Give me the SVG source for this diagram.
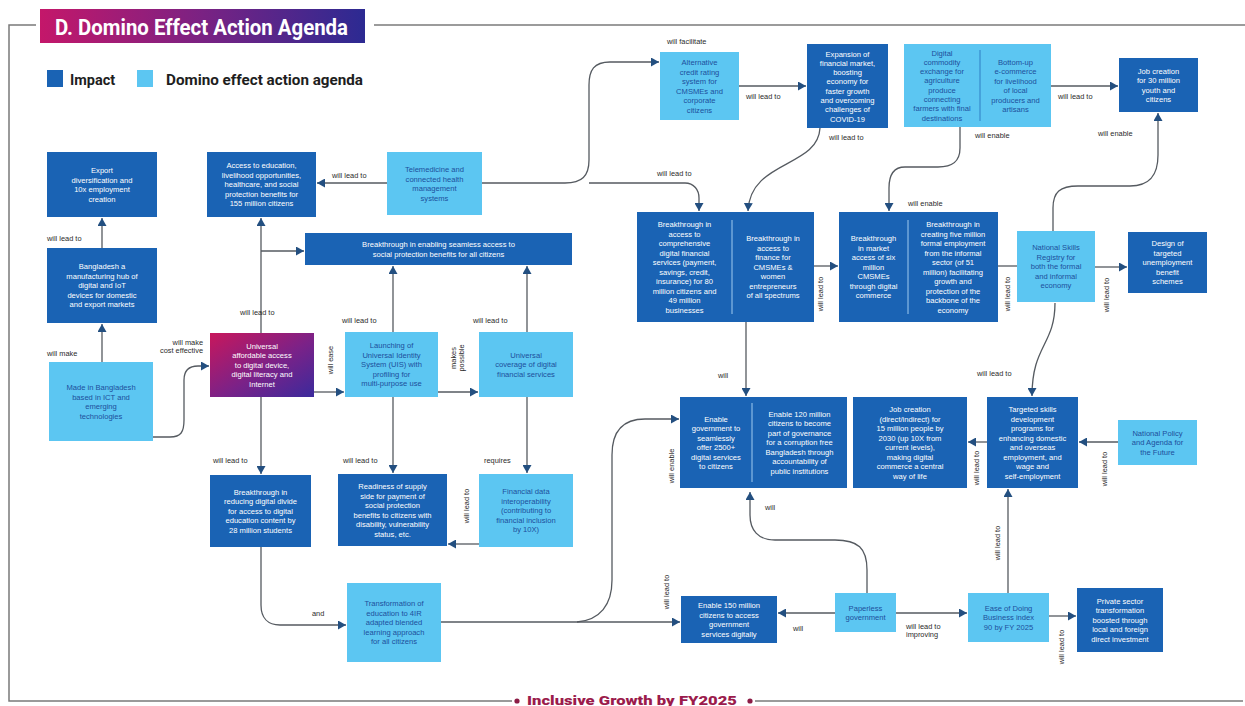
<svg xmlns="http://www.w3.org/2000/svg" width="1245" height="706" viewBox="0 0 1245 706">
  <defs>
    <linearGradient id="gHead" x1="0" y1="0" x2="1" y2="0">
      <stop offset="0" stop-color="#c4176a"/>
      <stop offset="0.5" stop-color="#7a2283"/>
      <stop offset="1" stop-color="#2c2a92"/>
    </linearGradient>
    <linearGradient id="gKey" x1="0" y1="0" x2="1" y2="1">
      <stop offset="0" stop-color="#c8175c"/>
      <stop offset="0.55" stop-color="#7a2288"/>
      <stop offset="1" stop-color="#3b2a9c"/>
    </linearGradient>
    <marker id="ah" markerUnits="userSpaceOnUse" markerWidth="9" markerHeight="9" refX="8" refY="4.5" orient="auto">
      <path d="M0,0 L8,4.5 L0,9 z" fill="#234f80"/>
    </marker>
    <style>
      .imp{fill:#1a63b4}
      .act{fill:#5cc6f2}
      .div{stroke:#9fcbef;stroke-width:1}
      .divl{stroke:#2f7fc4;stroke-width:1}
      .tw{fill:#ffffff;font-family:"Liberation Sans",Arial,sans-serif;font-size:7.6px;text-anchor:middle}
      .tb{fill:#1c4f9c;font-family:"Liberation Sans",Arial,sans-serif;font-size:7.6px;text-anchor:middle}
      .lbl{fill:#2a2a2a;font-family:"Liberation Sans",Arial,sans-serif;font-size:7.4px}
      .vl{fill:#2a2a2a;font-family:"Liberation Sans",Arial,sans-serif;font-size:7.4px;text-anchor:middle}
      .con{fill:none;stroke:#555a60;stroke-width:1.3}
      .arr{marker-end:url(#ah)}
      .frame{fill:none;stroke:#7a7a7a;stroke-width:1.5}
    </style>
  </defs>

  <rect width="1245" height="706" fill="#ffffff"/>

  <!-- outer frame -->
  <path class="frame" d="M36,25 H9 V701 H512"/>
  <path class="frame" d="M755,701 H1243"/>
  <path class="frame" d="M374,25 H1245"/>

  <!-- title -->
  <g id="title">
    <rect x="40" y="9" width="325" height="34" fill="url(#gHead)"/>
    <text x="55" y="35" fill="#ffffff" font-family="Roboto,'Liberation Sans',sans-serif" font-weight="bold" font-size="22" textLength="293" lengthAdjust="spacingAndGlyphs">D. Domino Effect Action Agenda</text>
  </g>

  <!-- legend -->
  <g id="legend">
    <rect x="47" y="70" width="16" height="17" class="imp"/>
    <text x="70" y="85" fill="#1e1e1e" font-family="Roboto,'Liberation Sans',sans-serif" font-weight="bold" font-size="14.5">Impact</text>
    <rect x="137" y="70" width="16" height="17" class="act"/>
    <text x="166" y="85" fill="#1e1e1e" font-family="Roboto,'Liberation Sans',sans-serif" font-weight="bold" font-size="14.5" textLength="197" lengthAdjust="spacingAndGlyphs">Domino effect action agenda</text>
  </g>

  <!-- connectors -->
  <g id="connectors">
    <path class="con arr" d="M102,362 V324"/>
    <path class="con arr" d="M102,248 V218"/>
    <path class="con arr" d="M153,437 H170 C181,437 184,432 184,420 V380 C184,370 189,366 198,366 H209"/>
    <path class="con arr" d="M261,333 V218"/>
    <path class="con arr" d="M261,251 H304"/>
    <path class="con arr" d="M387,183 H317"/>
    <path class="con arr" d="M482,183 H565 C582,183 589,176 589,160 V85 C589,70 594,62 610,62 H659"/>
    <path class="con arr" d="M589,183 H685 C694,183 699,190 699,198 V211"/>
    <path class="con arr" d="M739,86 H806"/>
    <path class="con arr" d="M820,128 C818,168 750,160 748,211"/>
    <path class="con arr" d="M1051,86 H1118"/>
    <path class="con arr" d="M960,127 V148 C960,162 952,167 938,167 H905 C894,167 889,175 889,188 V211"/>
    <path class="con arr" d="M1053,231 V208 C1053,192 1060,186 1078,186 H1130 C1150,186 1158,175 1158,155 V113"/>
    <path class="con arr" d="M814,266 H838"/>
    <path class="con" d="M998,266 H1017"/>
    <path class="con arr" d="M1095,267 H1127"/>
    <path class="con arr" d="M1055,303 C1055,345 1032,345 1032,396"/>
    <path class="con arr" d="M746,322 V396"/>
    <path class="con arr" d="M1118,442 H1079"/>
    <path class="con arr" d="M987,442 H968"/>
    <path class="con arr" d="M1008,593 V489"/>
    <path class="con arr" d="M1049,616 H1076"/>
    <path class="con arr" d="M835,613 H778"/>
    <path class="con arr" d="M896,613 H967"/>
    <path class="con arr" d="M867,593 V570 C867,548 858,540 835,540 H775 C758,540 750,530 750,515 V492"/>
    <path class="con arr" d="M314,392 H344"/>
    <path class="con arr" d="M438,392 H478"/>
    <path class="con arr" d="M393,332 V266"/>
    <path class="con arr" d="M527,332 V266"/>
    <path class="con arr" d="M393,397 V473"/>
    <path class="con arr" d="M527,397 V473"/>
    <path class="con arr" d="M479,544 H448"/>
    <path class="con arr" d="M261,397 V474"/>
    <path class="con arr" d="M261,547 V605 C261,618 268,625 280,625 H346"/>
    <path class="con arr" d="M441,622 H680"/>
    <path class="con arr" d="M577,622 C600,620 612,605 612,580 V455 C612,432 622,419 645,419 H679"/>
  </g>

  <!-- connector labels -->
  <g id="labels">
    <text class="lbl" x="47" y="241">will lead to</text>
    <text class="lbl" x="47" y="356">will make</text>
    <text class="lbl" x="203" y="345" text-anchor="end" font-size="6.6">will make</text>
    <text class="lbl" x="203" y="353" text-anchor="end" font-size="6.6">cost effective</text>
    <text class="lbl" x="240" y="315">will lead to</text>
    <text class="lbl" x="332" y="178">will lead to</text>
    <text class="lbl" x="213" y="463">will lead to</text>
    <text class="vl" transform="translate(333,360) rotate(-90)">will ease</text>
    <text class="vl" transform="translate(456,358) rotate(-90)">makes</text>
    <text class="vl" transform="translate(464,358) rotate(-90)">possible</text>
    <text class="lbl" x="342" y="323">will lead to</text>
    <text class="lbl" x="473" y="323">will lead to</text>
    <text class="lbl" x="343" y="463">will lead to</text>
    <text class="lbl" x="484" y="463">requires</text>
    <text class="vl" transform="translate(469,506) rotate(-90)">will lead to</text>
    <text class="lbl" x="312" y="616">and</text>
    <text class="lbl" x="667" y="44">will facilitate</text>
    <text class="lbl" x="746" y="99">will lead to</text>
    <text class="lbl" x="829" y="140">will lead to</text>
    <text class="lbl" x="657" y="176">will lead to</text>
    <text class="lbl" x="975" y="138">will enable</text>
    <text class="lbl" x="1058" y="99">will lead to</text>
    <text class="lbl" x="1098" y="136">will enable</text>
    <text class="lbl" x="908" y="206">will enable</text>
    <text class="vl" transform="translate(823,294) rotate(-90)">will lead to</text>
    <text class="vl" transform="translate(1010,294) rotate(-90)">will lead to</text>
    <text class="vl" transform="translate(1109,295) rotate(-90)">will lead to</text>
    <text class="lbl" x="977" y="376">will lead to</text>
    <text class="lbl" x="718" y="378">will</text>
    <text class="vl" transform="translate(979,468) rotate(-90)">will lead to</text>
    <text class="vl" transform="translate(1107,469) rotate(-90)">will lead to</text>
    <text class="vl" transform="translate(1000,543) rotate(-90)">will lead to</text>
    <text class="vl" transform="translate(1064,647) rotate(-90)">will lead to</text>
    <text class="vl" transform="translate(674,466) rotate(-90)">will enable</text>
    <text class="vl" transform="translate(669,592) rotate(-90)">will lead to</text>
    <text class="lbl" x="765" y="510">will</text>
    <text class="lbl" x="793" y="631">will</text>
    <text class="lbl" x="906" y="629">will lead to</text>
    <text class="lbl" x="906" y="637">improving</text>
  </g>

  <!-- nodes -->
  <g id="n-export">
    <rect x="47" y="152" width="110" height="65" class="imp"/>
    <text class="tw" y="173"><tspan x="102">Export</tspan><tspan x="102" dy="9.5">diversification and</tspan><tspan x="102" dy="9.5">10x employment</tspan><tspan x="102" dy="9.5">creation</tspan></text>
  </g>
  <g id="n-hub">
    <rect x="47" y="248" width="110" height="75" class="imp"/>
    <text class="tw" y="269.3"><tspan x="102">Bangladesh a</tspan><tspan x="102" dy="9.5">manufacturing hub of</tspan><tspan x="102" dy="9.5">digital and IoT</tspan><tspan x="102" dy="9.5">devices for domestic</tspan><tspan x="102" dy="9.5">and export markets</tspan></text>
  </g>
  <g id="n-made">
    <rect x="49" y="362" width="104" height="79" class="act"/>
    <text class="tb" y="390"><tspan x="101">Made in Bangladesh</tspan><tspan x="101" dy="9.5">based in ICT and</tspan><tspan x="101" dy="9.5">emerging</tspan><tspan x="101" dy="9.5">technologies</tspan></text>
  </g>
  <g id="n-universal">
    <rect x="210" y="333" width="104" height="64" fill="url(#gKey)"/>
    <text class="tw" y="348.8"><tspan x="262">Universal</tspan><tspan x="262" dy="9.5">affordable access</tspan><tspan x="262" dy="9.5">to digital device,</tspan><tspan x="262" dy="9.5">digital literacy and</tspan><tspan x="262" dy="9.5">Internet</tspan></text>
  </g>
  <g id="n-access">
    <rect x="207" y="152" width="109" height="65" class="imp"/>
    <text class="tw" y="168.3"><tspan x="261.5">Access to education,</tspan><tspan x="261.5" dy="9.5">livelihood opportunities,</tspan><tspan x="261.5" dy="9.5">healthcare, and social</tspan><tspan x="261.5" dy="9.5">protection benefits for</tspan><tspan x="261.5" dy="9.5">155 million citizens</tspan></text>
  </g>
  <g id="n-tele">
    <rect x="387" y="152" width="95" height="63" class="act"/>
    <text class="tb" y="172"><tspan x="434.5">Telemedicine and</tspan><tspan x="434.5" dy="9.5">connected health</tspan><tspan x="434.5" dy="9.5">management</tspan><tspan x="434.5" dy="9.5">systems</tspan></text>
  </g>
  <g id="n-credit">
    <rect x="660" y="52" width="79" height="68" class="act"/>
    <text class="tb" y="65"><tspan x="699.5">Alternative</tspan><tspan x="699.5" dy="9.5">credit rating</tspan><tspan x="699.5" dy="9.5">system for</tspan><tspan x="699.5" dy="9.5">CMSMEs and</tspan><tspan x="699.5" dy="9.5">corporate</tspan><tspan x="699.5" dy="9.5">citizens</tspan></text>
  </g>
  <g id="n-market">
    <rect x="807" y="44" width="81" height="84" class="imp"/>
    <text class="tw" y="56.5"><tspan x="847.5">Expansion of</tspan><tspan x="847.5" dy="9.3">financial market,</tspan><tspan x="847.5" dy="9.3">boosting</tspan><tspan x="847.5" dy="9.3">economy for</tspan><tspan x="847.5" dy="9.3">faster growth</tspan><tspan x="847.5" dy="9.3">and overcoming</tspan><tspan x="847.5" dy="9.3">challenges of</tspan><tspan x="847.5" dy="9.3">COVID-19</tspan></text>
  </g>
  <g id="n-commodity">
    <rect x="904" y="44" width="147" height="83" class="act"/>
    <line x1="980" y1="50" x2="980" y2="121" class="divl"/>
    <text class="tb" y="55.5"><tspan x="942">Digital</tspan><tspan x="942" dy="9.3">commodity</tspan><tspan x="942" dy="9.3">exchange for</tspan><tspan x="942" dy="9.3">agriculture</tspan><tspan x="942" dy="9.3">produce</tspan><tspan x="942" dy="9.3">connecting</tspan><tspan x="942" dy="9.3">farmers with final</tspan><tspan x="942" dy="9.3">destinations</tspan></text>
    <text class="tb" y="64.5"><tspan x="1015.5">Bottom-up</tspan><tspan x="1015.5" dy="9.5">e-commerce</tspan><tspan x="1015.5" dy="9.5">for livelihood</tspan><tspan x="1015.5" dy="9.5">of local</tspan><tspan x="1015.5" dy="9.5">producers and</tspan><tspan x="1015.5" dy="9.5">artisans</tspan></text>
  </g>
  <g id="n-jobs30">
    <rect x="1119" y="58" width="79" height="54" class="imp"/>
    <text class="tw" y="73.5"><tspan x="1158.5">Job creation</tspan><tspan x="1158.5" dy="9.5">for 30 million</tspan><tspan x="1158.5" dy="9.5">youth and</tspan><tspan x="1158.5" dy="9.5">citizens</tspan></text>
  </g>
  <g id="n-finance">
    <rect x="637" y="212" width="177" height="110" class="imp"/>
    <line x1="732" y1="220" x2="732" y2="314" class="div"/>
    <text class="tw" y="227"><tspan x="684.5">Breakthrough in</tspan><tspan x="684.5" dy="9.5">access to</tspan><tspan x="684.5" dy="9.5">comprehensive</tspan><tspan x="684.5" dy="9.5">digital financial</tspan><tspan x="684.5" dy="9.5">services (payment,</tspan><tspan x="684.5" dy="9.5">savings, credit,</tspan><tspan x="684.5" dy="9.5">insurance) for 80</tspan><tspan x="684.5" dy="9.5">million citizens and</tspan><tspan x="684.5" dy="9.5">49 million</tspan><tspan x="684.5" dy="9.5">businesses</tspan></text>
    <text class="tw" y="241.3"><tspan x="773">Breakthrough in</tspan><tspan x="773" dy="9.5">access to</tspan><tspan x="773" dy="9.5">finance for</tspan><tspan x="773" dy="9.5">CMSMEs &amp;</tspan><tspan x="773" dy="9.5">women</tspan><tspan x="773" dy="9.5">entrepreneurs</tspan><tspan x="773" dy="9.5">of all spectrums</tspan></text>
  </g>
  <g id="n-commerce">
    <rect x="839" y="212" width="159" height="110" class="imp"/>
    <line x1="908" y1="220" x2="908" y2="314" class="div"/>
    <text class="tw" y="241.3"><tspan x="873.5">Breakthrough</tspan><tspan x="873.5" dy="9.5">in market</tspan><tspan x="873.5" dy="9.5">access of six</tspan><tspan x="873.5" dy="9.5">million</tspan><tspan x="873.5" dy="9.5">CMSMEs</tspan><tspan x="873.5" dy="9.5">through digital</tspan><tspan x="873.5" dy="9.5">commerce</tspan></text>
    <text class="tw" y="227"><tspan x="953">Breakthrough in</tspan><tspan x="953" dy="9.5">creating five million</tspan><tspan x="953" dy="9.5">formal employment</tspan><tspan x="953" dy="9.5">from the informal</tspan><tspan x="953" dy="9.5">sector (of 51</tspan><tspan x="953" dy="9.5">million) facilitating</tspan><tspan x="953" dy="9.5">growth and</tspan><tspan x="953" dy="9.5">protection of the</tspan><tspan x="953" dy="9.5">backbone of the</tspan><tspan x="953" dy="9.5">economy</tspan></text>
  </g>
  <g id="n-registry">
    <rect x="1017" y="231" width="78" height="71" class="act"/>
    <text class="tb" y="250.3"><tspan x="1056">National Skills</tspan><tspan x="1056" dy="9.5">Registry for</tspan><tspan x="1056" dy="9.5">both the formal</tspan><tspan x="1056" dy="9.5">and informal</tspan><tspan x="1056" dy="9.5">economy</tspan></text>
  </g>
  <g id="n-unemployment">
    <rect x="1128" y="232" width="79" height="61" class="imp"/>
    <text class="tw" y="246.3"><tspan x="1167.5">Design of</tspan><tspan x="1167.5" dy="9.5">targeted</tspan><tspan x="1167.5" dy="9.5">unemployment</tspan><tspan x="1167.5" dy="9.5">benefit</tspan><tspan x="1167.5" dy="9.5">schemes</tspan></text>
  </g>
  <g id="n-skills">
    <rect x="987" y="397" width="91" height="91" class="imp"/>
    <text class="tw" y="412"><tspan x="1032.5">Targeted skills</tspan><tspan x="1032.5" dy="9.5">development</tspan><tspan x="1032.5" dy="9.5">programs for</tspan><tspan x="1032.5" dy="9.5">enhancing domestic</tspan><tspan x="1032.5" dy="9.5">and overseas</tspan><tspan x="1032.5" dy="9.5">employment, and</tspan><tspan x="1032.5" dy="9.5">wage and</tspan><tspan x="1032.5" dy="9.5">self-employment</tspan></text>
  </g>
  <g id="n-policy">
    <rect x="1118" y="420" width="79" height="45" class="act"/>
    <text class="tb" y="435.8"><tspan x="1157.5">National Policy</tspan><tspan x="1157.5" dy="9.5">and Agenda for</tspan><tspan x="1157.5" dy="9.5">the Future</tspan></text>
  </g>
  <g id="n-jobs15">
    <rect x="853" y="397" width="114" height="91" class="imp"/>
    <text class="tw" y="412"><tspan x="910">Job creation</tspan><tspan x="910" dy="9.5">(direct/indirect) for</tspan><tspan x="910" dy="9.5">15 million people by</tspan><tspan x="910" dy="9.5">2030 (up 10X from</tspan><tspan x="910" dy="9.5">current levels),</tspan><tspan x="910" dy="9.5">making digital</tspan><tspan x="910" dy="9.5">commerce a central</tspan><tspan x="910" dy="9.5">way of life</tspan></text>
  </g>
  <g id="n-govt">
    <rect x="680" y="397" width="167" height="91" class="imp"/>
    <line x1="752" y1="403" x2="752" y2="482" class="div"/>
    <text class="tw" y="421.5"><tspan x="716">Enable</tspan><tspan x="716" dy="9.5">government to</tspan><tspan x="716" dy="9.5">seamlessly</tspan><tspan x="716" dy="9.5">offer 2500+</tspan><tspan x="716" dy="9.5">digital services</tspan><tspan x="716" dy="9.5">to citizens</tspan></text>
    <text class="tw" y="416.8"><tspan x="799.5">Enable 120 million</tspan><tspan x="799.5" dy="9.5">citizens to become</tspan><tspan x="799.5" dy="9.5">part of governance</tspan><tspan x="799.5" dy="9.5">for a corruption free</tspan><tspan x="799.5" dy="9.5">Bangladesh through</tspan><tspan x="799.5" dy="9.5">accountability of</tspan><tspan x="799.5" dy="9.5">public institutions</tspan></text>
  </g>
  <g id="n-services">
    <rect x="681" y="596" width="96" height="47" class="imp"/>
    <text class="tw" y="608"><tspan x="729">Enable 150 million</tspan><tspan x="729" dy="9.5">citizens to access</tspan><tspan x="729" dy="9.5">government</tspan><tspan x="729" dy="9.5">services digitally</tspan></text>
  </g>
  <g id="n-paperless">
    <rect x="835" y="593" width="61" height="39" class="act"/>
    <text class="tb" y="610.5"><tspan x="865.5">Paperless</tspan><tspan x="865.5" dy="9.5">government</tspan></text>
  </g>
  <g id="n-business">
    <rect x="968" y="593" width="81" height="49" class="act"/>
    <text class="tb" y="610.8"><tspan x="1008.5">Ease of Doing</tspan><tspan x="1008.5" dy="9.5">Business index</tspan><tspan x="1008.5" dy="9.5">90 by FY 2025</tspan></text>
  </g>
  <g id="n-private">
    <rect x="1077" y="588" width="86" height="64" class="imp"/>
    <text class="tw" y="603.8"><tspan x="1120">Private sector</tspan><tspan x="1120" dy="9.5">transformation</tspan><tspan x="1120" dy="9.5">boosted through</tspan><tspan x="1120" dy="9.5">local and foreign</tspan><tspan x="1120" dy="9.5">direct investment</tspan></text>
  </g>
  <g id="n-social">
    <rect x="305" y="233" width="267" height="32" class="imp"/>
    <text class="tw" y="247"><tspan x="438.5">Breakthrough in enabling seamless access to</tspan><tspan x="438.5" dy="9.5">social protection benefits for all citizens</tspan></text>
  </g>
  <g id="n-uis">
    <rect x="345" y="332" width="93" height="65" class="act"/>
    <text class="tb" y="348.3"><tspan x="391.5">Launching of</tspan><tspan x="391.5" dy="9.5">Universal Identity</tspan><tspan x="391.5" dy="9.5">System (UIS) with</tspan><tspan x="391.5" dy="9.5">profiling for</tspan><tspan x="391.5" dy="9.5">multi-purpose use</tspan></text>
  </g>
  <g id="n-coverage">
    <rect x="479" y="332" width="94" height="65" class="act"/>
    <text class="tb" y="357.8"><tspan x="526">Universal</tspan><tspan x="526" dy="9.5">coverage of digital</tspan><tspan x="526" dy="9.5">financial services</tspan></text>
  </g>
  <g id="n-readiness">
    <rect x="338" y="474" width="109" height="72" class="imp"/>
    <text class="tw" y="489"><tspan x="392.5">Readiness of supply</tspan><tspan x="392.5" dy="9.5">side for payment of</tspan><tspan x="392.5" dy="9.5">social protection</tspan><tspan x="392.5" dy="9.5">benefits to citizens with</tspan><tspan x="392.5" dy="9.5">disability, vulnerability</tspan><tspan x="392.5" dy="9.5">status, etc.</tspan></text>
  </g>
  <g id="n-interop">
    <rect x="479" y="474" width="94" height="73" class="act"/>
    <text class="tb" y="494.3"><tspan x="526">Financial data</tspan><tspan x="526" dy="9.5">interoperability</tspan><tspan x="526" dy="9.5">(contributing to</tspan><tspan x="526" dy="9.5">financial inclusion</tspan><tspan x="526" dy="9.5">by 10X)</tspan></text>
  </g>
  <g id="n-divide">
    <rect x="210" y="475" width="101" height="72" class="imp"/>
    <text class="tw" y="494.8"><tspan x="260.5">Breakthrough in</tspan><tspan x="260.5" dy="9.5">reducing digital divide</tspan><tspan x="260.5" dy="9.5">for access to digital</tspan><tspan x="260.5" dy="9.5">education content by</tspan><tspan x="260.5" dy="9.5">28 million students</tspan></text>
  </g>
  <g id="n-education">
    <rect x="347" y="583" width="94" height="79" class="act"/>
    <text class="tb" y="606.3"><tspan x="394">Transformation of</tspan><tspan x="394" dy="9.5">education to 4IR</tspan><tspan x="394" dy="9.5">adapted blended</tspan><tspan x="394" dy="9.5">learning approach</tspan><tspan x="394" dy="9.5">for all citizens</tspan></text>
  </g>

  <!-- footer -->
  <g id="footer">
    <circle cx="517" cy="701" r="2.6" fill="#8c1c46"/>
    <circle cx="750" cy="701" r="2.6" fill="#8c1c46"/>
    <text x="527" y="704.5" fill="#9b1b4c" font-family="Roboto,'Liberation Sans',sans-serif" font-weight="900" font-size="12" textLength="210" lengthAdjust="spacingAndGlyphs">Inclusive Growth by FY2025</text>
  </g>
</svg>
